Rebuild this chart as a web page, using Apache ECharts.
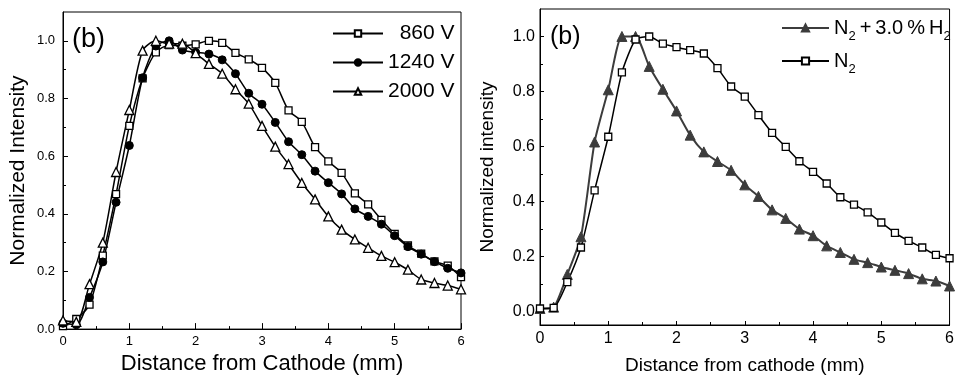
<!DOCTYPE html>
<html><head><meta charset="utf-8">
<script src="https://cdn.jsdelivr.net/npm/echarts@6/dist/echarts.min.js"></script>
<style>html,body{margin:0;padding:0;background:#fff}#c{width:957px;height:380px}</style>
</head><body><div id="c"></div><script>
// ---- data ----
const distance = [0,0.2,0.4,0.6,0.8,1.0,1.2,1.4,1.6,1.8,2.0,2.2,2.4,2.6,2.8,3.0,3.2,3.4,3.6,3.8,4.0,4.2,4.4,4.6,4.8,5.0,5.2,5.4,5.6,5.8,6.0];
const v860  = [0.01,0.035,0.085,0.255,0.468,0.705,0.87,0.96,0.985,0.983,0.988,1.0,0.993,0.958,0.936,0.906,0.854,0.759,0.719,0.631,0.582,0.542,0.471,0.433,0.379,0.33,0.29,0.262,0.235,0.22,0.18];
const v1240 = [0.02,0.015,0.11,0.233,0.44,0.637,0.872,0.982,1.0,0.968,0.96,0.954,0.934,0.886,0.818,0.78,0.717,0.65,0.605,0.548,0.508,0.469,0.417,0.391,0.364,0.324,0.286,0.26,0.234,0.211,0.195];
const v2000 = [0.03,0.025,0.156,0.30,0.545,0.76,0.966,1.0,0.99,0.99,0.957,0.92,0.886,0.832,0.782,0.705,0.633,0.572,0.507,0.45,0.391,0.345,0.311,0.282,0.254,0.232,0.206,0.172,0.16,0.151,0.138];
const n2h2  = [0.01,0.015,0.134,0.271,0.616,0.806,1.0,1.0,0.891,0.808,0.729,0.641,0.58,0.545,0.513,0.46,0.418,0.369,0.338,0.299,0.275,0.238,0.214,0.189,0.177,0.161,0.149,0.137,0.118,0.11,0.092];
const n2    = [0.01,0.012,0.106,0.232,0.44,0.635,0.869,0.989,1.0,0.974,0.961,0.95,0.938,0.885,0.818,0.781,0.714,0.649,0.598,0.546,0.507,0.465,0.415,0.388,0.36,0.323,0.285,0.256,0.232,0.205,0.193];
const yMajor = [0,0.2,0.4,0.6,0.8,1.0];
const yMinor = [0.1,0.3,0.5,0.7,0.9];
const leftNames = ['860 V','1240 V','2000 V'];
const rightNames = ['N2 + 3.0 % H2','N2'];

const FONT = 'Liberation Sans, Arial, sans-serif';
const pair = arr => distance.map((d,i)=>[d, arr[i]]);

function xAx(grid, name, fs, lfs, gap, margin, tlen){
  return {type:'value', gridIndex:grid, min:0, max:6, interval:1, position:'bottom',
    name:name, nameLocation:'middle', nameGap:gap,
    nameTextStyle:{fontSize:fs, fontFamily:FONT, color:'#000'},
    axisLine:{show:true, onZero:false, lineStyle:{color:'#000', width:1}},
    axisTick:{show:true, inside:true, length:tlen, lineStyle:{color:'#000'}},
    minorTick:{show:true, splitNumber:2, length:3, lineStyle:{color:'#000'}},
    axisLabel:{fontSize:lfs, fontFamily:FONT, color:'#000', margin:margin},
    splitLine:{show:false}, minorSplitLine:{show:false}};
}
function yAx(grid, min, max, name, fs, lfs, gap, margin, tlen){
  return {type:'value', gridIndex:grid, min:min, max:max, position:'left',
    name:name, nameLocation:'middle', nameGap:gap,
    nameTextStyle:{fontSize:fs, fontFamily:FONT, color:'#000'},
    axisLine:{show:true, onZero:false, lineStyle:{color:'#000', width:1}},
    axisTick:{show:true, inside:true, length:tlen, customValues:yMajor, lineStyle:{color:'#000'}},
    axisLabel:{fontSize:lfs, fontFamily:FONT, color:'#000', margin:margin, customValues:yMajor,
      formatter: v => v.toFixed(1)},
    splitLine:{show:false}};
}
function yMinorAx(grid, min, max){
  return {type:'value', gridIndex:grid, min:min, max:max, position:'left',
    axisLine:{show:false}, axisLabel:{show:false}, splitLine:{show:false},
    axisTick:{show:true, inside:true, length:3, customValues:yMinor, lineStyle:{color:'#000'}}};
}

const chart = echarts.init(document.getElementById('c'), null, {renderer:'canvas'});
chart.setOption({
  animation:false,
  backgroundColor:'#fff',
  grid:[
    {left:63, top:12, width:398, height:320, show:true, borderColor:'#000', borderWidth:1, backgroundColor:'transparent'},
    {left:540, top:9, width:410, height:316, show:true, borderColor:'#000', borderWidth:1, backgroundColor:'transparent'}
  ],
  xAxis:[
    xAx(0,'Distance from Cathode (mm)',22,13,21,6,6),
    xAx(1,'Distance from cathode (mm)',19,16,31,6,4)
  ],
  yAxis:[
    yAx(0,0,1.1,'Normalized Intensity',21,13,34,8,5),
    yMinorAx(0,0,1.1),
    yAx(1,-0.05,1.1,'Normalized intensity',19,16,43,5,4),
    yMinorAx(1,-0.05,1.1)
  ],
  graphic:[
    {type:'text', x:72, y:40, style:{text:'(b)', fontSize:27, fontFamily:FONT, fill:'#000', verticalAlign:'middle'}},
    {type:'text', x:550, y:37, style:{text:'(b)', fontSize:25, fontFamily:FONT, fill:'#000', verticalAlign:'middle'}}
  ],
  legend:[
    {data:leftNames, orient:'vertical', left:327, top:18, itemWidth:50, itemHeight:8, itemGap:8,
      textStyle:{fontSize:21, fontFamily:FONT, color:'#000', lineHeight:21},
      formatter: n => n === '860 V' ? '  ' + n : n},
    {data:rightNames, orient:'vertical', left:776, top:13, itemWidth:47, itemHeight:9, itemGap:8,
      textStyle:{fontSize:20, fontFamily:FONT, color:'#000',
        rich:{n:{fontSize:20, fontFamily:FONT, color:'#000', lineHeight:30, verticalAlign:'middle'},
              s:{fontSize:13, fontFamily:FONT, color:'#000', lineHeight:30, verticalAlign:'bottom'}}},
      formatter: n => n === 'N2' ? '{n|N}{s|2}' : '{n|N}{s|2}{n|\u2009+\u20093.0\u2009%\u2009H}{s|2}'}
  ],
  series:[
    {name:leftNames[0], type:'line', xAxisIndex:0, yAxisIndex:0, data:pair(v860), smooth:0.25,
      symbol:'rect', symbolSize:7, lineStyle:{color:'#000', width:1.5},
      itemStyle:{color:'#fff', borderColor:'#000', borderWidth:1.3}},
    {name:leftNames[1], type:'line', xAxisIndex:0, yAxisIndex:0, data:pair(v1240), smooth:0.25,
      symbol:'circle', symbolSize:8, lineStyle:{color:'#000', width:1.5},
      itemStyle:{color:'#000', borderColor:'#000', borderWidth:1}},
    {name:leftNames[2], type:'line', xAxisIndex:0, yAxisIndex:0, data:pair(v2000), smooth:0.25,
      symbol:'triangle', symbolSize:9, lineStyle:{color:'#000', width:1.5},
      itemStyle:{color:'#fff', borderColor:'#000', borderWidth:1.3}},
    {name:rightNames[0], type:'line', xAxisIndex:1, yAxisIndex:2, data:pair(n2h2), smooth:0.2,
      symbol:'triangle', symbolSize:10, lineStyle:{color:'#3c3c3c', width:2},
      itemStyle:{color:'#3c3c3c', borderColor:'#3c3c3c', borderWidth:1}},
    {name:rightNames[1], type:'line', xAxisIndex:1, yAxisIndex:2, data:pair(n2), smooth:0.2,
      symbol:'rect', symbolSize:7, lineStyle:{color:'#000', width:1.5},
      itemStyle:{color:'#fff', borderColor:'#000', borderWidth:1.3}}
  ]
});
</script></body></html>
